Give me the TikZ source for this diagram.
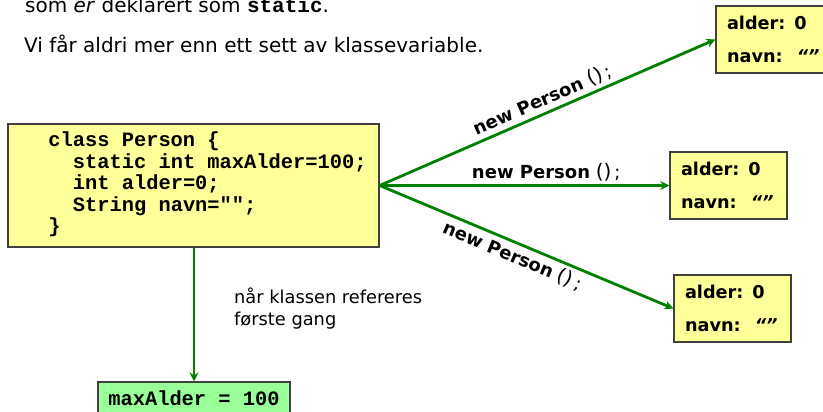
\documentclass[tikz,border=0pt]{standalone}
\usepackage{fontspec}
\setmainfont{DejaVu Sans}
\setmonofont{Liberation Mono}
\usetikzlibrary{arrows.meta}
\definecolor{boxyellow}{HTML}{FFFF99}
\definecolor{boxgreen}{HTML}{99FF99}
\definecolor{arrowgreen}{RGB}{0,128,0}
\definecolor{edgegray}{HTML}{404040}
\begin{document}
\begin{tikzpicture}[x=1pt,y=-1pt,
  box/.style={draw=edgegray, line width=1.3pt, inner sep=0pt},
  classbox/.style={box, fill=boxyellow, minimum width=371pt, minimum height=123pt,
    font=\fontsize{20.4}{21.5}\selectfont\ttfamily\bfseries},
  greenbox/.style={box, fill=boxgreen, minimum width=192pt, minimum height=32pt,
    font=\fontsize{20.4}{21.5}\selectfont\ttfamily\bfseries},
  objbox/.style={box, fill=boxyellow, minimum width=117pt, minimum height=67pt,
    text width=95pt, inner xsep=11pt, align=left,
    font=\fontsize{17.7}{33}\selectfont\bfseries},
  arr/.style={draw=arrowgreen, line width=2.8pt,
    -{Stealth[length=9pt,width=9pt,inset=3pt]}},
  lbl/.style={font=\fontsize{18}{20}\selectfont, text=black},
  plain/.style={anchor=base west, inner sep=0pt, font=\fontsize{20}{24}\selectfont},
  note/.style={anchor=west, inner sep=0pt, align=left, font=\fontsize{17.8}{22}\selectfont}
]
\useasboundingbox (0,0) rectangle (823,412);
\fill[white] (0,0) rectangle (823,412);

\node[plain] (t1) at (25,13) {som \textit{er} deklarert som {\ttfamily\bfseries\fontsize{21}{24}\selectfont static}.};
\node[plain] (t2) at (24,53) {Vi får aldri mer enn ett sett av klassevariable.};

\node[classbox] (cls) at (193.5,185.5) {\begin{tabular}{@{\hspace{28pt}}l@{}}
class Person \{\\
\hspace*{24.5pt}static int maxAlder=100;\\
\hspace*{24.5pt}int alder=0;\\
\hspace*{24.5pt}String navn="";\\
\}
\end{tabular}};

\node[objbox] (o1) at (774.5,39.5) {alder: 0\\navn:\hspace{14pt}\textit{“”}};
\node[objbox] (o2) at (728.5,185.5) {alder: 0\\navn:\hspace{14pt}\textit{“”}};
\node[objbox] (o3) at (732.5,308.5) {alder: 0\\navn:\hspace{14pt}\textit{“”}};

\node[greenbox] (ma) at (194,398) {maxAlder = 100};

\draw[arr] (cls.east) -- node[lbl, sloped, above, pos=0.5] {\textbf{new Person} {\fontsize{20}{20}\selectfont()}\,;} (o1.west);
\draw[arr] (cls.east) -- node[lbl, above, pos=0.575] {\textbf{new Person} {\fontsize{20}{20}\selectfont()}\,;} (o2.west);
\draw[arr] (cls.east) -- node[lbl, sloped, below, pos=0.47] {\textbf{new Person} {\fontsize{20}{20}\selectfont()}\,;} (o3.west);

\draw[arr] (cls.south -| ma.north) -- (ma.north);
\node[note] (n1) at (234,309) {når klassen refereres\\første gang};
\end{tikzpicture}
\end{document}
